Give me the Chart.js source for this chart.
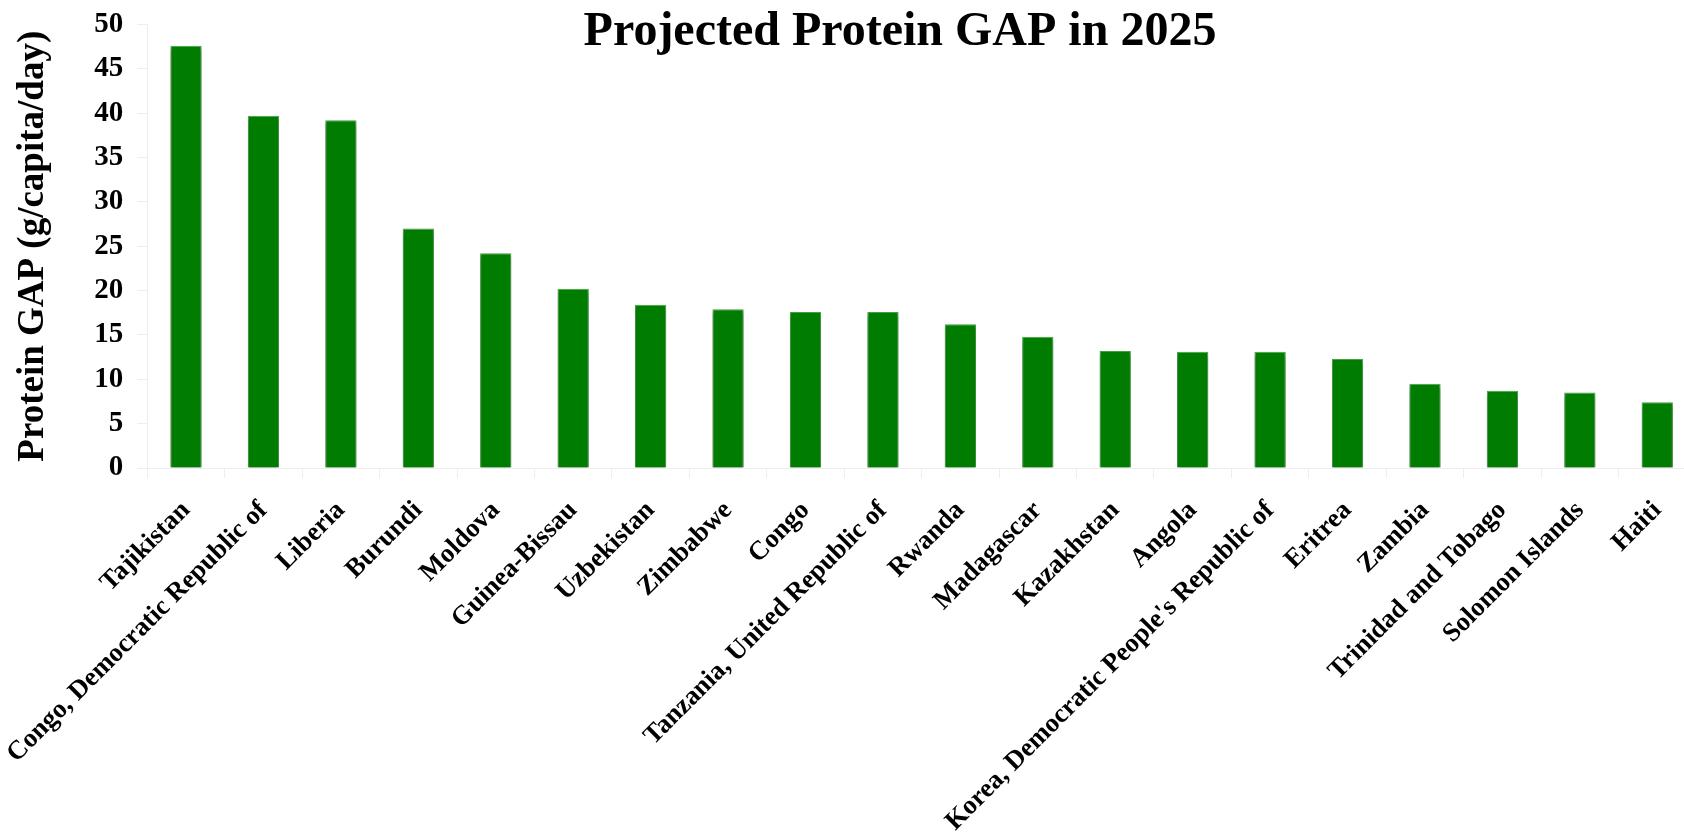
<!DOCTYPE html>
<html>
<head>
<meta charset="utf-8">
<script src="https://cdn.jsdelivr.net/npm/chart.js@4"></script>
<style>
  html, body { margin: 0; padding: 0; background: #fff; overflow: hidden; }
  #wrap { position: relative; width: 1696px; height: 832px; }
</style>
</head>
<body>
<div id="wrap"><canvas id="c"></canvas></div>
<script>
const categories = [
  "Tajikistan", "Congo, Democratic Republic of", "Liberia", "Burundi", "Moldova",
  "Guinea-Bissau", "Uzbekistan", "Zimbabwe", "Congo", "Tanzania, United Republic of",
  "Rwanda", "Madagascar", "Kazakhstan", "Angola", "Korea, Democratic People's Republic of",
  "Eritrea", "Zambia", "Trinidad and Tobago", "Solomon Islands", "Haiti"
];
const proteinGap = [47.6, 39.7, 39.2, 27.0, 24.2, 20.2, 18.4, 17.9, 17.6, 17.6,
                    16.2, 14.8, 13.2, 13.1, 13.1, 12.3, 9.5, 8.7, 8.5, 7.4];
const yMin = 0, yMax = 50, yStep = 5;
const chartTitle = "Projected Protein GAP in 2025";
const yAxisTitle = "Protein GAP (g/capita/day)";

const SERIF = "'Liberation Serif', 'Times New Roman', serif";

const shadowPlugin = {
  id: 'barShadow',
  beforeDatasetsDraw(chart) {
    const ctx = chart.ctx;
    ctx.save();
    ctx.shadowColor = 'rgba(0,0,0,0.38)';
    ctx.shadowBlur = 4;
    ctx.shadowOffsetX = 0;
    ctx.shadowOffsetY = 3;
  },
  afterDatasetsDraw(chart) {
    chart.ctx.restore();
  }
};

const titlePlugin = {
  id: 'topTitle',
  afterDraw(chart, args, opts) {
    const ctx = chart.ctx;
    ctx.save();
    ctx.font = "bold 48px " + SERIF;
    ctx.fillStyle = '#000';
    ctx.textAlign = 'center';
    ctx.textBaseline = 'alphabetic';
    ctx.fillText(opts.text, opts.x, opts.y);
    ctx.restore();
  }
};

new Chart(document.getElementById('c'), {
  type: 'bar',
  data: {
    labels: categories,
    datasets: [{
      data: proteinGap,
      backgroundColor: '#007c00',
      borderColor: '#47a347',
      borderWidth: 1,
      categoryPercentage: 1,
      barPercentage: 0.404
    }]
  },
  plugins: [shadowPlugin, titlePlugin],
  options: {
    responsive: true,
    maintainAspectRatio: false,
    animation: false,
    layout: { padding: { top: 24.5, right: 0, bottom: 0, left: 0 } },
    plugins: {
      legend: { display: false },
      tooltip: { enabled: false },
      title: { display: false },
      topTitle: { text: chartTitle, x: 900, y: 45 }
    },
    scales: {
      x: {
        afterFit(scale) {
          scale.height = 364;
          scale.paddingLeft = 0;
          scale.paddingRight = 0;
        },
        grid: {
          display: true,
          drawOnChartArea: false,
          drawTicks: true,
          tickLength: 10,
          color: '#eeeeee',
          offset: true
        },
        border: { display: true, color: '#eeeeee' },
        ticks: {
          color: '#000',
          font: { family: SERIF, size: 26.6, weight: 'bold' },
          minRotation: 45,
          maxRotation: 45,
          autoSkip: false,
          padding: 17
        }
      },
      y: {
        min: yMin,
        max: yMax,
        afterFit(scale) {
          scale.width = 147.3;
          scale.paddingTop = 0;
          scale.paddingBottom = 0;
        },
        grid: {
          display: true,
          drawOnChartArea: false,
          drawTicks: true,
          tickLength: 10,
          color: '#eeeeee'
        },
        border: { display: true, color: '#eeeeee' },
        ticks: {
          stepSize: yStep,
          color: '#000',
          font: { family: SERIF, size: 29, weight: 'bold' },
          padding: 14
        },
        title: {
          display: true,
          text: yAxisTitle,
          color: '#000',
          font: { family: SERIF, size: 37, weight: 'bold' },
          padding: { top: 11, bottom: 20 }
        }
      }
    }
  }
});
</script>
</body>
</html>
